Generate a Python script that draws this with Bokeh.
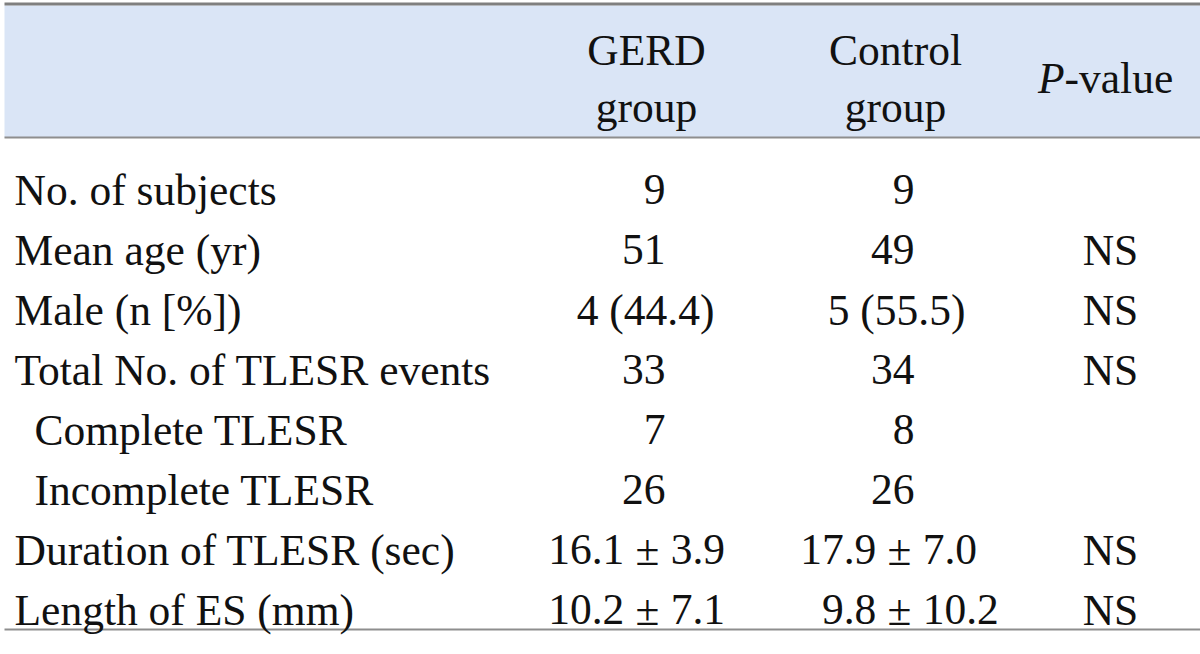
from bokeh.plotting import figure
from bokeh.models import Range1d, ColumnDataSource
from bokeh.core.properties import value
from bokeh.embed import file_html
from bokeh.resources import INLINE

# ---- table content ----
header_line1 = ["GERD", "Control"]
header_line2 = ["group", "group"]
pvalue_head_italic = "P"
pvalue_head_rest = "-value"

row_labels = ["No. of subjects", "Mean age (yr)", "Male (n [%])", "Total No. of TLESR events",
              "Complete TLESR", "Incomplete TLESR", "Duration of TLESR (sec)", "Length of ES (mm)"]
row_indent = [0, 0, 0, 0, 1, 1, 0, 0]
gerd_vals = ["9", "51", "4 (44.4)", "33", "7", "26", "16.1 \u00b1 3.9", "10.2 \u00b1 7.1"]
control_vals = ["9", "49", "5 (55.5)", "34", "8", "26", "17.9 \u00b1 7.0", "9.8 \u00b1 10.2"]
p_vals = ["", "NS", "NS", "NS", "", "", "NS", "NS"]

# ---- layout (page pixel space) ----
W, H = 1200, 654
FONT = value("Times")
FSN = 43.5
FS = f"{FSN}px"
TXT = "#111111"

label_x, indent_dx = 14, 20
row_base0, row_step = 189, 60.0
# column anchors: (center for mixed values, right edge for integers, anchor of the "±" sign)
cols = [(645, 665, 647), (896, 914, 899)]
col_p = 1110
pm_gap = (0.282 + 0.25) * FSN

p = figure(width=W, height=H, output_backend="svg", toolbar_location=None,
           x_range=Range1d(0, W), y_range=Range1d(H, 0), min_border=0)
p.axis.visible = False
p.grid.visible = False
p.outline_line_color = None
p.background_fill_color = "white"
p.border_fill_color = "white"

# header band and rules
p.quad(left=[4], right=[W], top=[5], bottom=[137], fill_color="#DAE5F6", line_color=None)
p.segment(x0=[4], y0=[3.5], x1=[W], y1=[3.5], line_color="#7F7F7F", line_width=3.2)
p.segment(x0=[4], y0=[137], x1=[W], y1=[137], line_color="#8E8E8E", line_width=2)
p.segment(x0=[4], y0=[629], x1=[W], y1=[629], line_color="#8E8E8E", line_width=2)

def txt(x, y, t, align="center", style="normal"):
    src = ColumnDataSource(dict(x=x, y=y, t=t))
    p.text(x="x", y="y", text="t", source=src, text_font=FONT, text_font_size=FS,
           text_font_style=style, text_align=align, text_baseline="alphabetic", text_color=TXT)

# header text
txt([cols[0][0] + 1, cols[1][0] - 1], [49, 49], header_line1)
txt([cols[0][0] + 1, cols[1][0] - 1], [106, 106], header_line2)
txt([1064], [77], [pvalue_head_italic], align="right", style="italic")
txt([1064], [77], [pvalue_head_rest], align="left")

# body
n = len(row_labels)
ys = [row_base0 + row_step * i for i in range(n)]
txt([label_x + indent_dx * d for d in row_indent], ys, row_labels, align="left")

for (cx, rx, pmx), vals in zip(cols, (gerd_vals, control_vals)):
    mix_x, mix_y, mix_t = [], [], []
    int_y, int_t = [], []
    ly, lt, rt = [], [], []
    for y, v in zip(ys, vals):
        if "\u00b1" in v:
            left, right = [s.strip() for s in v.split("\u00b1")]
            ly.append(y); lt.append(left); rt.append(right)
        elif v.isdigit():
            int_y.append(y); int_t.append(v)
        else:
            mix_x.append(cx); mix_y.append(y); mix_t.append(v)
    txt(mix_x, mix_y, mix_t)
    txt([rx] * len(int_y), int_y, int_t, align="right")
    txt([pmx - pm_gap] * len(ly), ly, lt, align="right")
    txt([pmx] * len(ly), ly, ["\u00b1"] * len(ly))
    txt([pmx + pm_gap] * len(ly), ly, rt, align="left")

txt([col_p] * n, ys, p_vals)

open("out.html", "w").write(file_html(p, INLINE))
